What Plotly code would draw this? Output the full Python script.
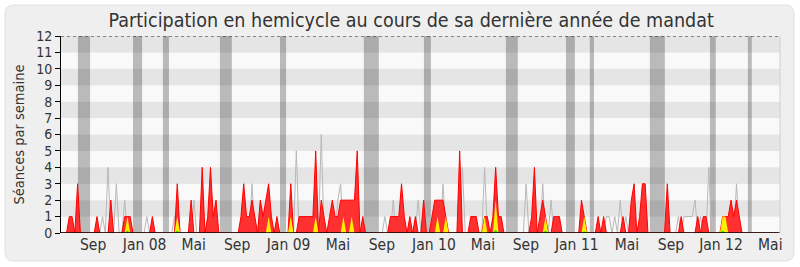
import plotly.graph_objects as go

# ---- data (weekly index 0..259) ----
weeks = list(range(260))

presence = [
    0,0,0,1,1,0,3,0,0,0, 0,0,0,1,0,0,0,0,2,0,
    0,0,0,1,1,1,0,0,0,0, 0,0,0,1,0,0,0,0,0,0,
    0,0,3,0,0,0,0,2,0,0, 0,4,0,1,4,1,2,0,0,0,
    0,0,0,0,0,1,3,1,1,2, 1,0,2,1,2,3,1,0,1,0,
    0,0,0,3,0,0,1,1,1,1, 1,1,5,0,2,1,0,1,2,1,
    1,2,2,2,2,2,2,5,0,1, 0,0,0,0,0,0,0,0,0,1,
    1,1,1,3,1,0,1,0,1,0, 0,2,0,0,1,2,2,2,2,1,
    0,0,0,0,5,0,0,0,1,1, 1,0,0,1,1,0,1,4,1,1,
    0,0,0,0,0,0,0,0,0,0, 1,4,0,1,2,1,0,0,1,1,
    1,0,0,0,0,0,0,0,2,1, 0,0,0,0,1,0,1,0,0,0,
    0,0,0,1,0,0,2,3,0,1, 3,3,0,0,0,0,0,0,0,3,
    0,0,0,0,1,0,0,0,0,0, 1,0,1,1,0,0,0,0,0,1,
    1,1,2,1,2,1,0,0,0,0, 0,0,0,0,0,0,0,0,0,0,
]

interventions = [
    0,0,0,0,0,0,0,0,0,0, 0,0,0,0,0,0,0,0,0,0,
    0,0,0,0,1,0,0,0,0,0, 0,0,0,0,0,0,0,0,0,0,
    0,0,1,0,0,0,0,0,0,0, 0,0,0,0,0,0,0,0,0,0,
    0,0,0,0,0,0,0,0,0,0, 0,0,0,0,0,1,0,0,0,0,
    0,0,0,1,0,0,0,0,0,0, 0,0,1,0,0,0,0,0,0,0,
    0,0,1,0,0,1,0,0,0,0, 0,0,0,0,0,0,0,0,0,0,
    0,0,0,0,0,0,0,0,0,0, 0,0,0,0,0,0,1,0,0,1,
    0,0,0,0,0,0,0,0,0,0, 0,0,0,1,0,0,0,2,0,0,
    0,0,0,0,0,0,0,0,0,0, 0,0,0,0,0,1,0,0,0,0,
    0,0,0,0,0,0,0,0,0,1, 0,0,0,0,0,0,0,0,0,0,
    0,0,0,0,0,0,0,0,0,0, 0,0,0,0,0,0,0,0,0,0,
    0,0,0,0,0,0,0,0,0,0, 0,0,0,0,0,0,0,0,0,1,
    1,0,0,0,0,0,0,0,0,0, 0,0,0,0,0,0,0,0,0,0,
]

questions = [
    0,0,0,0,0,0,0,0,0,0, 0,0,0,0,0,0,0,0,0,0,
    0,0,0,0,0.15,0,0,0,0,0, 0,0,0,0,0,0,0,0,0,0,
    0,0,0.15,0,0,0,0,0,0,0, 0,0,0,0,0,0,0,0,0,0,
    0,0,0,0,0,0,0,0,0,0, 0,0,0,0,0,0,0,0,0,0,
    0,0,0,0,0,0,0,0,0,0, 0,0,0,0,0,0,0,0,0,0,
    0,0,0,0,0,0,0,0,0,0, 0,0,0,0,0,0,0,0,0,0,
    0,0,0,0,0,0,0,0,0,0, 0,0,0,0,0,0,0,0,0,0,
    0,0,0,0,0,0,0,0,0,0, 0,0,0,0,0,0,0,0.2,0,0,
    0,0,0,0,0,0,0,0,0,0, 0,0,0,0,0,0.15,0,0,0,0,
    0,0,0,0,0,0,0,0,0,0.1, 0,0,0,0,0,0,0,0,0,0,
    0,0,0,0,0,0,0,0,0,0, 0,0,0,0,0,0,0,0,0,0,
    0,0,0,0,0,0,0,0,0,0, 0,0,0,0,0,0,0,0,0,0.15,
    0,0,0,0,0,0,0,0,0,0, 0,0,0,0,0,0,0,0,0,0,
]

mediane = [
    0,0,0,0,0,0,0,0,0,0, 0,0,0,0,0,1,0,4,0,0,
    3,0,0,2,0,0,0,0,0,0, 0,1,0,0,0,0,0,0,0,0,
    0,1,0,0,0,0,0,0,2,0, 0,0,0,0,0,0,0,0,0,0,
    0,0,0,0,0,0,0,0,0,3, 0,0,2,0,0,0,0,0,0,0,
    0,0,0,0,0,5,0,0,0,0, 0,0,0,0,6,0,0,0,0,0,
    2,3,0,0,0,0,0,0,0,0, 0,0,0,0,0,0,0,1,0,0,
    2,0,0,0,0,0,0,0,0,2, 0,2,0,0,0,0,0,0,3,0,
    0,0,0,0,0,4,0,0,0,0, 0,0,0,4,0,0,0,0,0,0,
    0,0,0,0,0,0,0,0,3,0, 0,0,0,0,3,0,0,2,0,0,
    1,0,0,0,0,0,0,0,0,0, 0,0,0,0,0,0,0,1,1,0,
    1,0,2,0,1,0,0,0,0,0, 0,0,0,0,0,0,0,0,0,0,
    0,0,0,1,0,1,1,1,1,2, 0,1,0,0,4,0,0,0,0,0,
    0,0,0,0,3,0,0,0,0,0, 0,0,0,0,0,0,0,0,0,0,
]

# parliamentary breaks (in weeks)
vac_start = [6.1, 26.0, 36.8, 57.4, 79.1, 109.4, 131.1, 160.7, 182.4, 191.0, 212.7, 234.4, 248.1]
vac_end = [10.5, 29.3, 39.0, 61.7, 81.3, 114.8, 133.6, 165.0, 185.6, 192.5, 218.1, 236.5, 249.5]

tick_weeks = [11.6, 30.2, 47.9, 63.6, 82.2, 100.0, 115.9, 134.7, 152.4, 167.9, 186.3, 204.4, 220.3, 238.4, 256.2]
tick_labels = ["Sep", "Jan 08", "Mai", "Sep", "Jan 09", "Mai", "Sep", "Jan 10", "Mai",
               "Sep", "Jan 11", "Mai", "Sep", "Jan 12", "Mai"]

FONT = "DejaVu Sans Condensed, DejaVu Sans, sans-serif"

fig = go.Figure()

fig.add_trace(go.Scatter(x=weeks, y=mediane, mode="lines",
                         line=dict(color="#b8b8b8", width=1), hoverinfo="skip"))
fig.add_trace(go.Scatter(x=weeks, y=presence, mode="lines", fill="tozeroy",
                         line=dict(color="#ff0000", width=1),
                         fillcolor="#ff3030", hoverinfo="skip"))
fig.add_trace(go.Scatter(x=weeks, y=interventions, mode="lines", fill="tozeroy",
                         line=dict(color="#ff9900", width=0),
                         fillcolor="#ffee00", hoverinfo="skip"))
fig.add_trace(go.Scatter(x=weeks, y=questions, mode="lines", fill="tozeroy",
                         line=dict(color="#00cc00", width=0),
                         fillcolor="#00ee00", hoverinfo="skip"))

shapes = []
# rounded card background (paper coords: plot area 61..780 x, 36..233 y)
def px_x(p):
    return (p - 61) / 719.0
def px_y(p):
    return (233 - p) / 197.0
L, R, T, B, rad = 5, 794, 5, 261, 9
path = (f"M {px_x(L+rad)},{px_y(T)} L {px_x(R-rad)},{px_y(T)} Q {px_x(R)},{px_y(T)} {px_x(R)},{px_y(T+rad)} "
        f"L {px_x(R)},{px_y(B-rad)} Q {px_x(R)},{px_y(B)} {px_x(R-rad)},{px_y(B)} "
        f"L {px_x(L+rad)},{px_y(B)} Q {px_x(L)},{px_y(B)} {px_x(L)},{px_y(B-rad)} "
        f"L {px_x(L)},{px_y(T+rad)} Q {px_x(L)},{px_y(T)} {px_x(L+rad)},{px_y(T)} Z")
shapes.append(dict(type="path", xref="paper", yref="paper", path=path,
                   fillcolor="#efefef", line=dict(color="#e0e0e0", width=1), layer="below"))
# alternating horizontal bands
for k in range(12):
    shapes.append(dict(type="rect", xref="paper", yref="y", x0=0, x1=1, y0=k, y1=k + 1,
                       fillcolor="#e5e5e5" if k % 2 else "#f9f9f9",
                       line=dict(width=0), layer="below"))
# breaks
for a, b in zip(vac_start, vac_end):
    shapes.append(dict(type="rect", xref="x", yref="paper", x0=a, x1=b, y0=0, y1=1,
                       fillcolor="rgba(0,0,0,0.25)", line=dict(width=0), layer="below"))
# dotted top line
shapes.append(dict(type="line", xref="paper", yref="y", x0=0, x1=1, y0=12, y1=12,
                   line=dict(color="#222222", width=1, dash="dot"), layer="above"))
# black baseline drawn over the traces
shapes.append(dict(type="line", xref="paper", yref="y", x0=0, x1=1, y0=0, y1=0,
                   line=dict(color="#000000", width=1.5), layer="above"))
# light right border
shapes.append(dict(type="line", xref="paper", yref="paper", x0=1, x1=1, y0=0, y1=1,
                   line=dict(color="#d0d0d0", width=1), layer="above"))

fig.update_layout(
    width=800, height=267,
    margin=dict(l=61, r=20, t=36, b=34),
    paper_bgcolor="#ffffff",
    plot_bgcolor="#f9f9f9",
    showlegend=False,
    shapes=shapes,
    title=dict(text="Participation en hemicycle au cours de sa dernière année de mandat",
               x=0.514, xanchor="center", y=1 - 20 / 267, yanchor="middle",
               font=dict(family=FONT, size=19.5, color="#333333")),
    font=dict(family=FONT, color="#333333"),
)

fig.update_xaxes(range=[0, 259.7], tickmode="array", tickvals=tick_weeks, ticktext=tick_labels,
                 showgrid=False, zeroline=False, showline=False,
                 ticks="", tickfont=dict(family=FONT, size=15.5, color="#333333"), fixedrange=True)
fig.update_yaxes(range=[0, 12], tickmode="array", tickvals=list(range(13)),
                 showgrid=False, zeroline=False, showline=True, linecolor="#000000", linewidth=1,
                 ticks="outside", ticklen=5, tickcolor="#000000",
                 tickfont=dict(family=FONT, size=14, color="#333333"),
                 title=dict(text="Séances par semaine", font=dict(family=FONT, size=14.5, color="#333333"),
                            standoff=8), fixedrange=True)

fig.write_html("out.html")
